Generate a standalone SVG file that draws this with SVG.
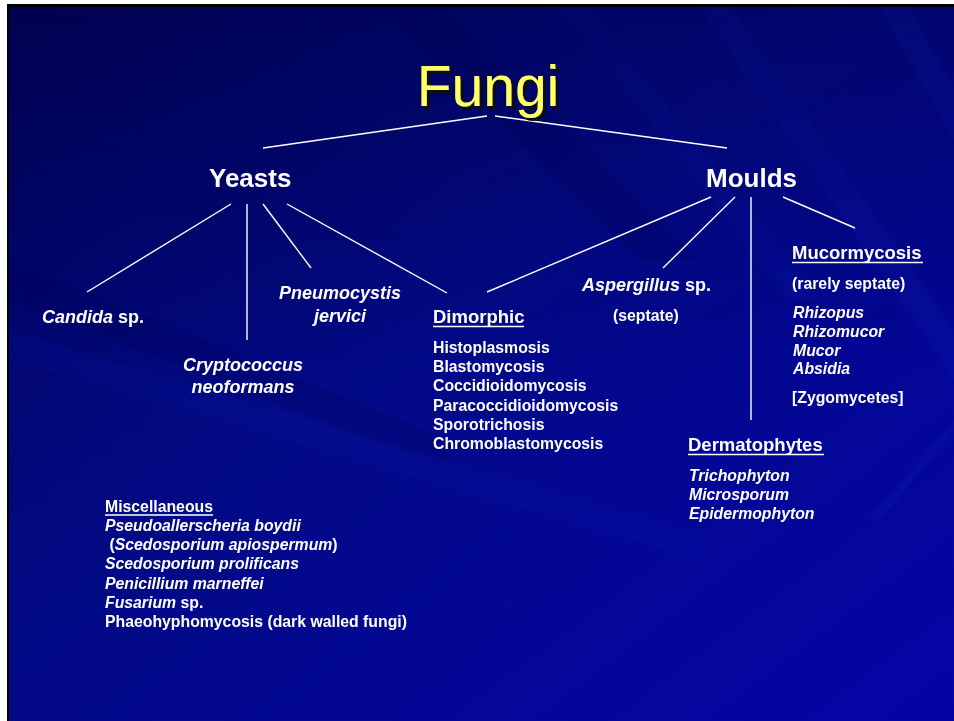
<svg xmlns="http://www.w3.org/2000/svg" width="954" height="721" viewBox="0 0 954 721">
<defs>
<linearGradient id="bg" x1="0" y1="0" x2="1" y2="1">
<stop offset="0" stop-color="#01035a"/>
<stop offset="0.45" stop-color="#030a86"/>
<stop offset="1" stop-color="#0404a6"/>
</linearGradient>
<linearGradient id="fade" x1="0" y1="0" x2="0" y2="1">
<stop offset="0" stop-color="#000040" stop-opacity="0.35"/>
<stop offset="0.5" stop-color="#000040" stop-opacity="0"/>
</linearGradient>
<filter id="shadow" x="-10%" y="-10%" width="130%" height="130%">
<feDropShadow dx="3" dy="3" stdDeviation="0.3" flood-color="#111111" flood-opacity="1"/>
</filter>
<style>
.t{font-family:"Liberation Sans",Arial,sans-serif;fill:#fff;font-weight:bold}
.h1{font-size:26px}
.h2{font-size:18.5px}
.b{font-size:15.8px}
.bi{font-size:18px;font-style:italic}
.i{font-style:italic}
.c{text-anchor:middle}
.ln line{stroke:#fff;stroke-width:1.4}
.ul{stroke:#fff;stroke-width:1.6}
</style>
</defs>
<rect width="954" height="721" fill="#fff"/>
<rect x="7" y="4" width="947" height="717" fill="#000"/>
<rect x="9" y="7" width="945" height="714" fill="url(#bg)"/>
<g opacity="0.5">
<polygon points="380,7 440,7 700,260 640,260" fill="#000048" opacity="0.35"/>
<polygon points="560,7 590,7 820,300 790,300" fill="#1020c0" opacity="0.25"/>
<polygon points="880,7 910,7 954,90 954,140" fill="#1a2ad0" opacity="0.35"/>
<polygon points="9,260 9,300 450,470 450,440" fill="#000050" opacity="0.35"/>
<polygon points="9,330 9,360 700,560 700,535" fill="#1020c0" opacity="0.2"/>
<polygon points="700,7 730,7 954,330 954,380" fill="#1a2ad0" opacity="0.25"/>
<polygon points="954,420 954,432 880,520 868,520" fill="#2a3ae0" opacity="0.2"/>
</g>
<rect x="9" y="7" width="945" height="714" fill="url(#fade)"/>
<g id="connectors" class="ln">
<line x1="487" y1="116" x2="263" y2="148"/>
<line x1="495" y1="116" x2="727" y2="148"/>
<line x1="231" y1="204" x2="87" y2="292"/>
<line x1="247" y1="204" x2="247" y2="340"/>
<line x1="263" y1="204" x2="311" y2="268"/>
<line x1="287" y1="204" x2="447" y2="293"/>
<line x1="711" y1="197" x2="487" y2="292"/>
<line x1="735" y1="197" x2="663" y2="268"/>
<line x1="751" y1="197" x2="751" y2="420"/>
<line x1="783" y1="197" x2="855" y2="228"/>
</g>
<g id="fungi">
<text x="488" y="106" text-anchor="middle" font-family="Liberation Sans,Arial,sans-serif" font-size="57" fill="#ffff66" filter="url(#shadow)">Fungi</text>
</g>
<g id="yeasts"><text class="t h1" x="209" y="187">Yeasts</text></g>
<g id="moulds"><text class="t h1" x="706" y="187">Moulds</text></g>
<g id="candida"><text class="t bi" x="42" y="323"><tspan class="i">Candida</tspan><tspan font-style="normal"> sp.</tspan></text></g>
<g id="cryptococcus">
<text class="t bi c" x="243" y="371">Cryptococcus</text>
<text class="t bi c" x="243" y="393">neoformans</text>
</g>
<g id="pneumocystis">
<text class="t bi c" x="340" y="299">Pneumocystis</text>
<text class="t bi c" x="340" y="322">jervici</text>
</g>
<g id="dimorphic">
<text class="t h2" x="433" y="323">Dimorphic</text>
<line class="ul" x1="433" y1="326.5" x2="524" y2="326.5"/>
<text class="t b" x="433" y="353">Histoplasmosis</text>
<text class="t b" x="433" y="372">Blastomycosis</text>
<text class="t b" x="433" y="391">Coccidioidomycosis</text>
<text class="t b" x="433" y="411">Paracoccidioidomycosis</text>
<text class="t b" x="433" y="430">Sporotrichosis</text>
<text class="t b" x="433" y="449">Chromoblastomycosis</text>
</g>
<g id="aspergillus">
<text class="t bi" x="582" y="291">Aspergillus<tspan font-style="normal"> sp.</tspan></text>
<text class="t b" x="613" y="321">(septate)</text>
</g>
<g id="mucormycosis">
<text class="t h2" x="792" y="259">Mucormycosis</text>
<line class="ul" x1="792" y1="262.5" x2="923" y2="262.5"/>
<text class="t b" x="792" y="289">(rarely septate)</text>
<text class="t b i" x="793" y="318">Rhizopus</text>
<text class="t b i" x="793" y="337">Rhizomucor</text>
<text class="t b i" x="793" y="356">Mucor</text>
<text class="t b i" x="793" y="374">Absidia</text>
<text class="t b" x="792" y="403">[Zygomycetes]</text>
</g>
<g id="dermatophytes">
<text class="t h2" x="688" y="451">Dermatophytes</text>
<line class="ul" x1="688" y1="454.5" x2="824" y2="454.5"/>
<text class="t b i" x="689" y="481">Trichophyton</text>
<text class="t b i" x="689" y="500">Microsporum</text>
<text class="t b i" x="689" y="519">Epidermophyton</text>
</g>
<g id="misc">
<text class="t b" x="105" y="512">Miscellaneous</text>
<line class="ul" x1="105" y1="515" x2="213" y2="515"/>
<text class="t b i" x="105" y="531">Pseudoallerscheria boydii</text>
<text class="t b" x="105" y="550" xml:space="preserve"> (<tspan font-style="italic">Scedosporium apiospermum</tspan>)</text>
<text class="t b i" x="105" y="569">Scedosporium prolificans</text>
<text class="t b i" x="105" y="589">Penicillium marneffei</text>
<text class="t b" x="105" y="608"><tspan font-style="italic">Fusarium</tspan> sp.</text>
<text class="t b" x="105" y="627">Phaeohyphomycosis (dark walled fungi)</text>
</g>
</svg>
